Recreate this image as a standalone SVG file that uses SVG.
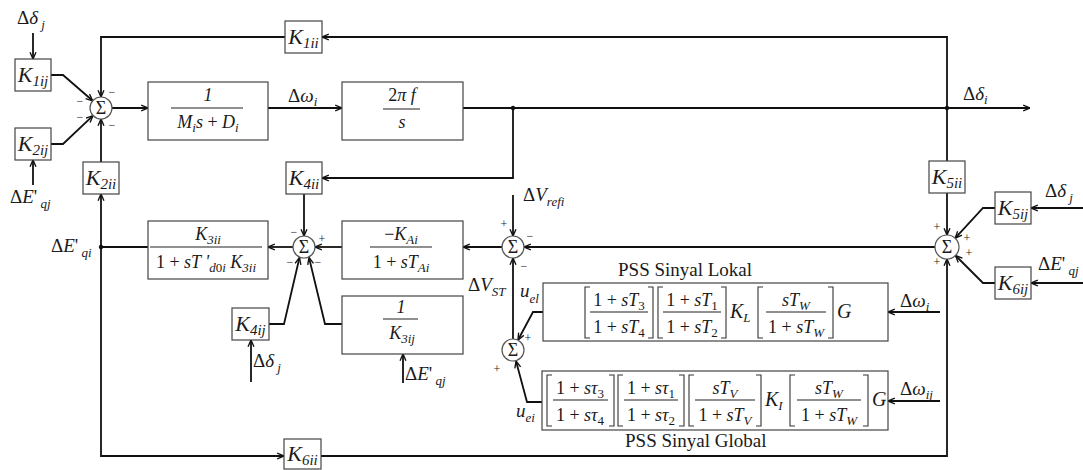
<svg xmlns="http://www.w3.org/2000/svg" width="1083" height="470" viewBox="0 0 1083 470">
<defs>
<style>
.bx{fill:#fff;stroke:#444;stroke-width:1.2}
.sm{fill:#fff;stroke:#555;stroke-width:1.2}
.ln{fill:none;stroke:#111;stroke-width:1.8}
.ar{marker-end:url(#ah)}
.bk{fill:none;stroke:#333;stroke-width:1.1}
.fb{stroke:#222;stroke-width:1.1}
text{font-family:"Liberation Serif","Times New Roman",serif;fill:#1a1a1a}
.i{font-style:italic}
.n{font-style:normal}
.sg{font-size:12px;text-anchor:middle}
.k{font-size:22px;font-style:italic;text-anchor:middle}
.ks{font-size:15px}
.f{font-size:18px;font-style:italic;text-anchor:middle}
.lb{font-size:19px}
.s{font-size:13px}
.sx{font-size:18px;text-anchor:middle}
</style>
<marker id="ah" viewBox="0 0 10 10" refX="9.5" refY="5" markerWidth="8" markerHeight="8" markerUnits="userSpaceOnUse" orient="auto">
<path d="M1,1.3 L9.5,5 L1,8.7" fill="none" stroke="#111" stroke-width="1.7"/>
</marker>
</defs>
<rect width="1083" height="470" fill="#fff"/>

<g id="connectors">
<path class="ln ar" d="M33,33 V59"/>
<path class="ln ar" d="M51,75 H63 L92.7,100.8"/>
<path class="ln ar" d="M51,144 H63 L93,115.6"/>
<path class="ln ar" d="M33,185 V160"/>
<path class="ln ar" d="M947,108 V37 H322"/>
<path class="ln ar" d="M285,37 H101 V97"/>
<path class="ln ar" d="M112,108 H148"/>
<path class="ln ar" d="M268,108 H342"/>
<path class="ln ar" d="M463,108 H1030"/>
<path class="ln ar" d="M513,108 V178 H322"/>
<path class="ln ar" d="M304,194 V236"/>
<path class="ln ar" d="M293,247 H268"/>
<path class="ln" d="M148,247 H101"/>
<path class="ln ar" d="M101,247 V194"/>
<path class="ln ar" d="M101,162 V119"/>
<path class="ln ar" d="M101,247 V456 H284"/>
<path class="ln ar" d="M321,456 H947 V259"/>
<path class="ln ar" d="M502,247 H463"/>
<path class="ln ar" d="M342,247 H315"/>
<path class="ln ar" d="M513,195 V236"/>
<path class="ln ar" d="M935,247 H524"/>
<path class="ln" d="M947,108 V161"/>
<path class="ln ar" d="M947,193 V235"/>
<path class="ln ar" d="M1083,208 H1031"/>
<path class="ln ar" d="M995,208 H983 L955.2,238.2"/>
<path class="ln ar" d="M1083,283 H1031"/>
<path class="ln ar" d="M995,283 H983 L955.5,255.5"/>
<path class="ln ar" d="M269,324 H284 L299.5,257.5"/>
<path class="ln ar" d="M342,324 H325 L309,257.5"/>
<path class="ln ar" d="M251,382 V340"/>
<path class="ln ar" d="M403,383 V354"/>
<path class="ln ar" d="M513,339 V258"/>
<path class="ln ar" d="M543,312 H533 L518,340"/>
<path class="ln ar" d="M542,402 H527 L516,361"/>
<path class="ln ar" d="M940,312 H888"/>
<path class="ln ar" d="M940,401 H888"/>
<circle cx="513" cy="108" r="2.2" fill="#111"/>
<circle cx="947" cy="108" r="2.2" fill="#111"/>
<circle cx="101" cy="247" r="2.2" fill="#111"/>
</g>

<g id="K1ij"><rect class="bx" x="15" y="59" width="36" height="32"/><text class="k" x="33" y="82">K<tspan class="ks" dy="4">1ij</tspan></text></g>
<g id="K2ij"><rect class="bx" x="15" y="128" width="36" height="32"/><text class="k" x="33" y="151">K<tspan class="ks" dy="4">2ij</tspan></text></g>
<g id="K1ii"><rect class="bx" x="285" y="21" width="37" height="32"/><text class="k" x="303.5" y="44">K<tspan class="ks" dy="4">1ii</tspan></text></g>
<g id="K2ii"><rect class="bx" x="83" y="162" width="36" height="32"/><text class="k" x="101" y="185">K<tspan class="ks" dy="4">2ii</tspan></text></g>
<g id="K4ii"><rect class="bx" x="286" y="162" width="36" height="32"/><text class="k" x="304" y="185">K<tspan class="ks" dy="4">4ii</tspan></text></g>
<g id="K5ii"><rect class="bx" x="929" y="161" width="36" height="32"/><text class="k" x="947" y="184">K<tspan class="ks" dy="4">5ii</tspan></text></g>
<g id="K5ij"><rect class="bx" x="995" y="192" width="36" height="32"/><text class="k" x="1013" y="215">K<tspan class="ks" dy="4">5ij</tspan></text></g>
<g id="K6ij"><rect class="bx" x="995" y="267" width="36" height="32"/><text class="k" x="1013" y="290">K<tspan class="ks" dy="4">6ij</tspan></text></g>
<g id="K4ij"><rect class="bx" x="232" y="308" width="37" height="32"/><text class="k" x="250.5" y="331">K<tspan class="ks" dy="4">4ij</tspan></text></g>
<g id="K6ii"><rect class="bx" x="284" y="439" width="37" height="30"/><text class="k" x="302.5" y="461">K<tspan class="ks" dy="4">6ii</tspan></text></g>

<g id="sum1"><circle class="sm" cx="101" cy="108" r="11"/><text class="sx" x="101" y="114">Σ</text>
<text class="sg" x="112" y="96">−</text><text class="sg" x="80" y="105">−</text><text class="sg" x="80" y="121">−</text><text class="sg" x="112" y="129">−</text></g>
<g id="sum2"><circle class="sm" cx="304" cy="247" r="11"/><text class="sx" x="304" y="253">Σ</text>
<text class="sg" x="294" y="236">−</text><text class="sg" x="322" y="243">+</text><text class="sg" x="290" y="266">−</text><text class="sg" x="318" y="266">−</text></g>
<g id="sum3"><circle class="sm" cx="513" cy="247" r="11"/><text class="sx" x="513" y="253">Σ</text>
<text class="sg" x="504" y="228">+</text><text class="sg" x="530" y="240">−</text><text class="sg" x="524" y="270">−</text></g>
<g id="sum4"><circle class="sm" cx="947" cy="247" r="12"/><text class="sx" x="947" y="253">Σ</text>
<text class="sg" x="937" y="231">+</text><text class="sg" x="967" y="242">+</text><text class="sg" x="969" y="257">+</text><text class="sg" x="937" y="266">+</text></g>
<g id="sum5"><circle class="sm" cx="513" cy="350" r="11"/><text class="sx" x="513" y="356">Σ</text>
<text class="sg" x="528" y="342">+</text><text class="sg" x="497" y="373">+</text></g>

<g id="blockMD"><rect class="bx" x="148" y="82" width="120" height="58"/>
<text class="f n" x="208" y="101">1</text><line class="fb" x1="171" y1="108" x2="243" y2="108"/>
<text class="f" x="208" y="128">M<tspan class="s" dy="4">i</tspan><tspan dy="-4">s</tspan><tspan class="n"> + </tspan>D<tspan class="s" dy="4">i</tspan></text></g>
<g id="block2pif"><rect class="bx" x="342" y="82" width="121" height="58"/>
<text class="f" x="402" y="101"><tspan class="n">2</tspan>π f</text><line class="fb" x1="383" y1="109" x2="420" y2="109"/>
<text class="f" x="402" y="128">s</text></g>
<g id="blockK3"><rect class="bx" x="148" y="221" width="120" height="58"/>
<text class="f" x="208" y="240">K<tspan class="s" dy="4">3ii</tspan></text><line class="fb" x1="150" y1="247" x2="262" y2="247"/>
<text class="f" x="206" y="268" font-size="19"><tspan class="n">1 + </tspan>sT '<tspan class="s" dy="4">d<tspan class="n">0</tspan>i</tspan><tspan dy="-4"> K</tspan><tspan class="s" dy="4">3ii</tspan></text></g>
<g id="blockKA"><rect class="bx" x="342" y="221" width="121" height="58"/>
<text class="f" x="401" y="240"><tspan class="n">−</tspan>K<tspan class="s" dy="4">Ai</tspan></text><line class="fb" x1="370" y1="247" x2="432" y2="247"/>
<text class="f" x="401" y="268"><tspan class="n">1 + </tspan>sT<tspan class="s" dy="4">Ai</tspan></text></g>
<g id="blockK3ij"><rect class="bx" x="342" y="296" width="121" height="58"/>
<text class="f n" x="401" y="313">1</text><line class="fb" x1="383" y1="319" x2="418" y2="319"/>
<text class="f" x="402" y="339">K<tspan class="s" dy="4">3ij</tspan></text></g>

<g id="pssLokal"><rect class="bx" x="543" y="283" width="345" height="58"/>
<path class="bk" d="M590,287 H585 V338 H590 M648,287 H653 V338 H648 M663,287 H658 V338 H663 M721,287 H726 V338 H721 M763,287 H758 V338 H763 M828,287 H833 V338 H828"/>
<text class="f" x="619" y="306"><tspan class="n">1 + </tspan>sT<tspan class="s n" dy="4">3</tspan></text>
<line class="fb" x1="590" y1="312" x2="648" y2="312"/>
<text class="f" x="619" y="333"><tspan class="n">1 + </tspan>sT<tspan class="s n" dy="4">4</tspan></text>
<text class="f" x="692" y="306"><tspan class="n">1 + </tspan>sT<tspan class="s n" dy="4">1</tspan></text>
<line class="fb" x1="663" y1="312" x2="721" y2="312"/>
<text class="f" x="692" y="333"><tspan class="n">1 + </tspan>sT<tspan class="s n" dy="4">2</tspan></text>
<text class="i" font-size="20" x="730" y="318">K<tspan class="s" dy="4">L</tspan></text>
<text class="f" x="796" y="306">sT<tspan class="s" dy="4">W</tspan></text>
<line class="fb" x1="766" y1="312" x2="826" y2="312"/>
<text class="f" x="796" y="333"><tspan class="n">1 + </tspan>sT<tspan class="s" dy="4">W</tspan></text>
<text class="i" font-size="20" x="837" y="318">G</text></g>

<g id="pssGlobal"><rect class="bx" x="542" y="371" width="346" height="59"/>
<path class="bk" d="M552,375 H547 V426 H552 M609,375 H614 V426 H609 M623,375 H618 V426 H623 M679,375 H684 V426 H679 M694,375 H689 V426 H694 M756,375 H761 V426 H756 M795,375 H790 V426 H795 M863,375 H868 V426 H863"/>
<text class="f" x="580" y="394"><tspan class="n">1 + </tspan>sτ<tspan class="s n" dy="4">3</tspan></text>
<line class="fb" x1="553" y1="400" x2="608" y2="400"/>
<text class="f" x="580" y="421"><tspan class="n">1 + </tspan>sτ<tspan class="s n" dy="4">4</tspan></text>
<text class="f" x="651" y="394"><tspan class="n">1 + </tspan>sτ<tspan class="s n" dy="4">1</tspan></text>
<line class="fb" x1="624" y1="400" x2="678" y2="400"/>
<text class="f" x="651" y="421"><tspan class="n">1 + </tspan>sτ<tspan class="s n" dy="4">2</tspan></text>
<text class="f" x="725" y="394">sT<tspan class="s" dy="4">V</tspan></text>
<line class="fb" x1="695" y1="400" x2="755" y2="400"/>
<text class="f" x="725" y="421"><tspan class="n">1 + </tspan>sT<tspan class="s" dy="4">V</tspan></text>
<text class="i" font-size="20" x="765" y="406">K<tspan class="s" dy="4">I</tspan></text>
<text class="f" x="829" y="394">sT<tspan class="s" dy="4">W</tspan></text>
<line class="fb" x1="797" y1="400" x2="861" y2="400"/>
<text class="f" x="829" y="421"><tspan class="n">1 + </tspan>sT<tspan class="s" dy="4">W</tspan></text>
<text class="i" font-size="20" x="872" y="406">G</text></g>

<g id="labels">
<text class="lb" x="17" y="24">Δ<tspan class="i">δ</tspan><tspan class="i s" dy="5"> j</tspan></text>
<text class="lb" x="10" y="203">Δ<tspan class="i">E</tspan>'<tspan class="i s" dy="5"> qj</tspan></text>
<text class="lb" x="51" y="252">Δ<tspan class="i">E</tspan>'<tspan class="i s" dy="5"> qi</tspan></text>
<text class="lb" x="288" y="102">Δ<tspan class="i">ω</tspan><tspan class="i s" dy="4">i</tspan></text>
<text class="lb" x="963" y="100">Δ<tspan class="i">δ</tspan><tspan class="i s" dy="4">i</tspan></text>
<text class="lb" x="523" y="201">Δ<tspan class="i">V</tspan><tspan class="i s" dy="5">refi</tspan></text>
<text class="lb" x="468" y="291">Δ<tspan class="i">V</tspan><tspan class="i s" dy="5">ST</tspan></text>
<text class="lb i" x="520" y="297">u<tspan class="s" dy="6">el</tspan></text>
<text class="lb i" x="516" y="417">u<tspan class="s" dy="5">ei</tspan></text>
<text class="lb" x="1045" y="197">Δ<tspan class="i">δ</tspan><tspan class="i s" dy="5"> j</tspan></text>
<text class="lb" x="1038" y="270">Δ<tspan class="i">E</tspan>'<tspan class="i s" dy="5"> qj</tspan></text>
<text class="lb" x="900" y="307">Δ<tspan class="i">ω</tspan><tspan class="i s" dy="4">i</tspan></text>
<text class="lb" x="900" y="395">Δ<tspan class="i">ω</tspan><tspan class="i s" dy="4">ij</tspan></text>
<text class="lb" x="253" y="367">Δ<tspan class="i">δ</tspan><tspan class="i s" dy="5"> j</tspan></text>
<text class="lb" x="405" y="380">Δ<tspan class="i">E</tspan>'<tspan class="i s" dy="5"> qj</tspan></text>
<text x="618" y="276" font-size="19">PSS Sinyal Lokal</text>
<text x="625" y="447" font-size="19">PSS Sinyal Global</text>
</g>
</svg>
